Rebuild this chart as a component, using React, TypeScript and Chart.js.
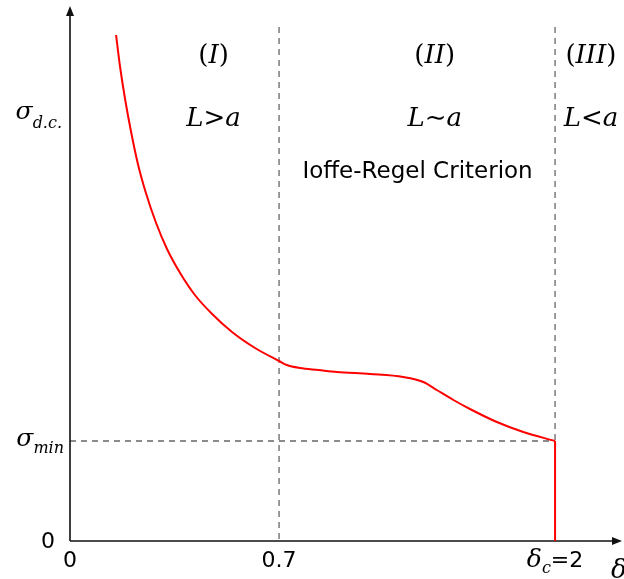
import React, { useEffect, useRef } from "react";
import { Chart, registerables } from "chart.js";

Chart.register(...registerables);

// Curve (x in sketch units along the δ axis, y in units of σ; σ_min = 1)
const curveX = [0.19, 0.206, 0.227, 0.252, 0.28, 0.313, 0.355, 0.4, 0.454, 0.515, 0.586, 0.668, 0.763, 0.862, 0.894, 0.948, 1.024, 1.1, 1.237, 1.374, 1.457, 1.512, 1.581, 1.649, 1.76, 1.869, 2.0];
const curveY = [5.06, 4.75, 4.42, 4.09, 3.77, 3.48, 3.18, 2.92, 2.68, 2.46, 2.27, 2.09, 1.93, 1.8, 1.76, 1.73, 1.71, 1.69, 1.67, 1.64, 1.59, 1.51, 1.41, 1.32, 1.19, 1.09, 1.0];
// Drop at δc
const dropX = [2.0, 2.0];
const dropY = [1.0, 0];

// Reference lines
const regionBounds = [0.862, 2.0]; // δ = 0.7 and δc = 2
const sigmaMin = 1.0;
const sigmaDC = 4.24;
const dashTop = 5.14;

// Tick labels
const xTickPos = [0, 0.862, 2.0];
const xTickLabels = ["0", "0.7", "δc=2"];

// Region labels
const regionNames = ["I", "II", "III"];
const regionRelations = [">", "∼", "<"];
const regionCenters = [0.592, 1.504, 2.148];

const X_MAX = 2.276;
const Y_MAX = 5.35;

const SERIF = "'DejaVu Serif', serif";
const SANS = "'DejaVu Sans', sans-serif";

type Part = { t: string; font: string; dy?: number };

function drawParts(ctx: CanvasRenderingContext2D, parts: Part[], x: number, y: number, align: "center" | "right" | "left") {
  let w = 0;
  for (const p of parts) {
    ctx.font = p.font;
    w += ctx.measureText(p.t).width;
  }
  let cx = align === "center" ? x - w / 2 : align === "right" ? x - w : x;
  ctx.textAlign = "left";
  ctx.textBaseline = "alphabetic";
  for (const p of parts) {
    ctx.font = p.font;
    ctx.fillText(p.t, cx, y + (p.dy || 0));
    cx += ctx.measureText(p.t).width;
  }
}

const sketchPlugin = {
  id: "sketch",
  beforeDatasetsDraw(chart: any) {
    const ctx: CanvasRenderingContext2D = chart.ctx;
    const xs = chart.scales.x;
    const ys = chart.scales.y;
    const x0 = xs.getPixelForValue(0);
    const y0 = ys.getPixelForValue(0);
    ctx.save();
    // dashed lines
    ctx.strokeStyle = "#666";
    ctx.lineWidth = 1.3;
    ctx.setLineDash([6, 5]);
    for (const b of regionBounds) {
      const px = xs.getPixelForValue(b);
      ctx.beginPath();
      ctx.moveTo(px, ys.getPixelForValue(dashTop));
      ctx.lineTo(px, b === 2.0 ? ys.getPixelForValue(sigmaMin) : y0);
      ctx.stroke();
    }
    ctx.beginPath();
    ctx.moveTo(x0, ys.getPixelForValue(sigmaMin));
    ctx.lineTo(xs.getPixelForValue(2.0), ys.getPixelForValue(sigmaMin));
    ctx.stroke();
    ctx.setLineDash([]);
    // axes
    const xEnd = xs.getPixelForValue(X_MAX);
    const yEnd = ys.getPixelForValue(Y_MAX);
    ctx.strokeStyle = "#111";
    ctx.fillStyle = "#111";
    ctx.lineWidth = 1.6;
    ctx.beginPath();
    ctx.moveTo(x0, y0);
    ctx.lineTo(xEnd - 6, y0);
    ctx.moveTo(x0, y0);
    ctx.lineTo(x0, yEnd + 6);
    ctx.stroke();
    ctx.beginPath();
    ctx.moveTo(xEnd, y0);
    ctx.lineTo(xEnd - 10, y0 - 4);
    ctx.lineTo(xEnd - 10, y0 + 4);
    ctx.closePath();
    ctx.fill();
    ctx.beginPath();
    ctx.moveTo(x0, yEnd);
    ctx.lineTo(x0 - 4, yEnd + 10);
    ctx.lineTo(x0 + 4, yEnd + 10);
    ctx.closePath();
    ctx.fill();
    ctx.restore();
  },
  afterDraw(chart: any) {
    const ctx: CanvasRenderingContext2D = chart.ctx;
    const xs = chart.scales.x;
    const ys = chart.scales.y;
    const x0 = xs.getPixelForValue(0);
    const y0 = ys.getPixelForValue(0);
    ctx.save();
    ctx.fillStyle = "#000";
    const it = (s: number) => `italic ${s}px ${SERIF}`;
    const up = (s: number) => `${s}px ${SERIF}`;
    const sans = (s: number) => `${s}px ${SANS}`;
    // region labels
    regionNames.forEach((n, i) => {
      const px = xs.getPixelForValue(regionCenters[i]);
      drawParts(ctx, [{ t: "(", font: up(26) }, { t: n, font: it(26) }, { t: ")", font: up(26) }], px, 63, "center");
      drawParts(ctx, [{ t: "L", font: it(26) }, { t: regionRelations[i], font: up(26) }, { t: "a", font: it(26) }], px, 126, "center");
    });
    ctx.font = sans(23);
    ctx.textAlign = "center";
    ctx.textBaseline = "middle";
    ctx.fillText("Ioffe-Regel Criterion", xs.getPixelForValue(1.433), ys.getPixelForValue(3.69));
    // y labels
    drawParts(ctx, [{ t: "σ", font: it(25) }, { t: "d.c.", font: it(16), dy: 9 }], x0 - 8, ys.getPixelForValue(sigmaDC) + 2, "right");
    drawParts(ctx, [{ t: "σ", font: it(25) }, { t: "min", font: it(16), dy: 7 }], x0 - 6, ys.getPixelForValue(sigmaMin) + 5, "right");
    ctx.font = sans(22);
    ctx.textAlign = "right";
    ctx.textBaseline = "middle";
    ctx.fillText("0", x0 - 15, y0 + 1);
    // x tick labels
    xTickPos.forEach((v, i) => {
      const px = xs.getPixelForValue(v);
      const lab = xTickLabels[i];
      if (lab.startsWith("δc")) {
        drawParts(ctx, [{ t: "δ", font: it(25) }, { t: "c", font: it(16), dy: 6 }, { t: lab.slice(2), font: sans(22) }], px, y0 + 26, "center");
      } else {
        drawParts(ctx, [{ t: lab, font: sans(22) }], px, y0 + 26, "center");
      }
    });
    // x axis name (cut off at the edge)
    drawParts(ctx, [{ t: "δ", font: it(26) }], 611, y0 + 37, "left");
    ctx.restore();
  },
};

export default function App() {
  const ref = useRef<HTMLCanvasElement | null>(null);
  useEffect(() => {
    if (!ref.current) return;
    const chart = new Chart(ref.current, {
      type: "scatter",
      data: {
        datasets: [
          {
            data: curveX.map((x, i) => ({ x, y: curveY[i] })),
            showLine: true,
            borderColor: "#ff0000",
            borderWidth: 2,
            pointRadius: 0,
            cubicInterpolationMode: "monotone",
            clip: false as any,
          },
          {
            data: dropX.map((x, i) => ({ x, y: dropY[i] })),
            showLine: true,
            borderColor: "#ff0000",
            borderWidth: 2,
            pointRadius: 0,
            clip: false as any,
          },
        ],
      },
      options: {
        responsive: false,
        animation: false,
        layout: { padding: { left: 70, right: 2, top: 6, bottom: 38 } },
        scales: {
          x: { type: "linear", min: 0, max: X_MAX, display: false },
          y: { type: "linear", min: 0, max: Y_MAX, display: false },
        },
        plugins: { legend: { display: false }, tooltip: { enabled: false } },
      },
      plugins: [sketchPlugin],
    });
    return () => chart.destroy();
  }, []);
  return (
    <div style={{ position: "fixed", left: 0, top: 0, width: 624, height: 579, background: "#fff" }}>
      <canvas ref={ref} width={624} height={579} style={{ display: "block" }} />
    </div>
  );
}
